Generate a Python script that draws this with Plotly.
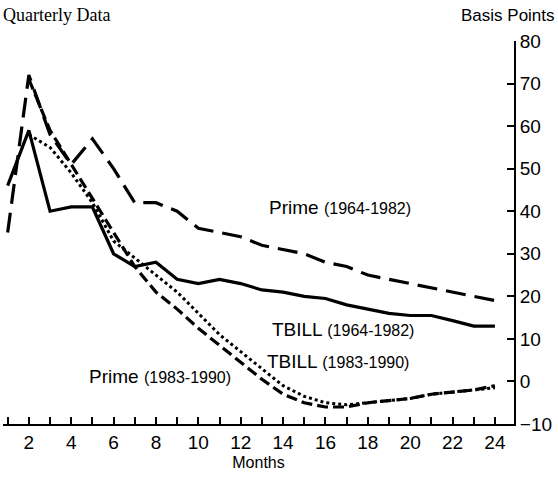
import plotly.graph_objects as go

months = list(range(1, 25))

prime_6482 = [35, 72, 58, 51, 57, 50, 42, 42, 40, 36, 35, 34, 32, 31, 30, 28, 27, 25, 24, 23, 22, 21, 20, 19]
tbill_6482 = [46, 59, 40, 41, 41, 30, 27, 28, 24, 23, 24, 23, 21.5, 21, 20, 19.5, 18, 17, 16, 15.5, 15.5, 14.3, 13, 13]
prime_8390 = [None, 71, 59, 51, 43, 35, 27, 21, 17, 12.5, 8.5, 4.5, 0.5, -3, -5, -6, -6, -5, -4.5, -4, -3, -2.5, -2, -1]
tbill_8390 = [None, 58, 55, 49, 42, 33, 29, 25, 21, 16, 11, 7, 3, -1, -3.5, -5, -5.5, -5, -4.5, -4, -3, -2.5, -2, -1.5]

y_ticks = [-10, 0, 10, 20, 30, 40, 50, 60, 70, 80]
x_ticklabels = [2, 4, 6, 8, 10, 12, 14, 16, 18, 20, 22, 24]

fig = go.Figure()
fig.add_trace(go.Scatter(x=months, y=prime_6482, mode="lines",
                         line=dict(color="black", width=3.2, dash="20px,9px"), name="Prime (1964-1982)"))
fig.add_trace(go.Scatter(x=months, y=tbill_6482, mode="lines",
                         line=dict(color="black", width=3.2), name="TBILL (1964-1982)"))
fig.add_trace(go.Scatter(x=months, y=prime_8390, mode="lines",
                         line=dict(color="black", width=3.2, dash="11px,5px"), name="Prime (1983-1990)"))
fig.add_trace(go.Scatter(x=months, y=tbill_8390, mode="lines",
                         line=dict(color="black", width=3, dash="3px,3px"), name="TBILL (1983-1990)"))

font_sans = "Liberation Sans, Arial, sans-serif"

annos = [
    ("Prime <span style='font-size:16px'>(1964-1982)</span>", 16.7, 40.8),
    ("TBILL <span style='font-size:16px'>(1964-1982)</span>", 16.85, 12.1),
    ("TBILL <span style='font-size:16px'>(1983-1990)</span>", 16.57, 4.8),
    ("Prime <span style='font-size:16px'>(1983-1990)</span>", 8.17, 1.05),
]
for text, ax, ay in annos:
    fig.add_annotation(x=ax, y=ay, xref="x", yref="y", text=text, showarrow=False,
                       font=dict(family=font_sans, size=19, color="black"))

fig.add_annotation(x=0, y=1, xref="paper", yref="paper", xanchor="left", yanchor="bottom",
                   xshift=-2, yshift=14, text="Quarterly Data", showarrow=False,
                   font=dict(family="Liberation Serif, Times New Roman, serif", size=18, color="black"))
fig.add_annotation(x=1, y=1, xref="paper", yref="paper", xanchor="right", yanchor="bottom",
                   xshift=43, yshift=14, text="Basis Points", showarrow=False,
                   font=dict(family=font_sans, size=17, color="black"))

fig.update_layout(
    width=558, height=477,
    margin=dict(l=3, r=44, t=41, b=53),
    paper_bgcolor="white", plot_bgcolor="white",
    showlegend=False,
    font=dict(family=font_sans, color="black"),
    xaxis=dict(range=[0.78, 24.9], tickmode="array", tickvals=months,
               ticktext=[str(m) if m in x_ticklabels else "" for m in months],
               ticks="inside", ticklen=7, tickwidth=2, tickcolor="black",
               showline=True, linecolor="black", linewidth=2, showgrid=False, zeroline=False,
               tickfont=dict(size=19),
               title=dict(text="Months", font=dict(size=16), standoff=5)),
    yaxis=dict(range=[-10, 80], side="right", tickvals=y_ticks,
               ticks="inside", ticklen=7, tickwidth=2, tickcolor="black",
               showline=True, linecolor="black", linewidth=2, showgrid=False, zeroline=False,
               tickfont=dict(size=19)),
)

fig.write_html("out.html", config={"displayModeBar": False},
               post_script="document.body.style.margin='0px';")
